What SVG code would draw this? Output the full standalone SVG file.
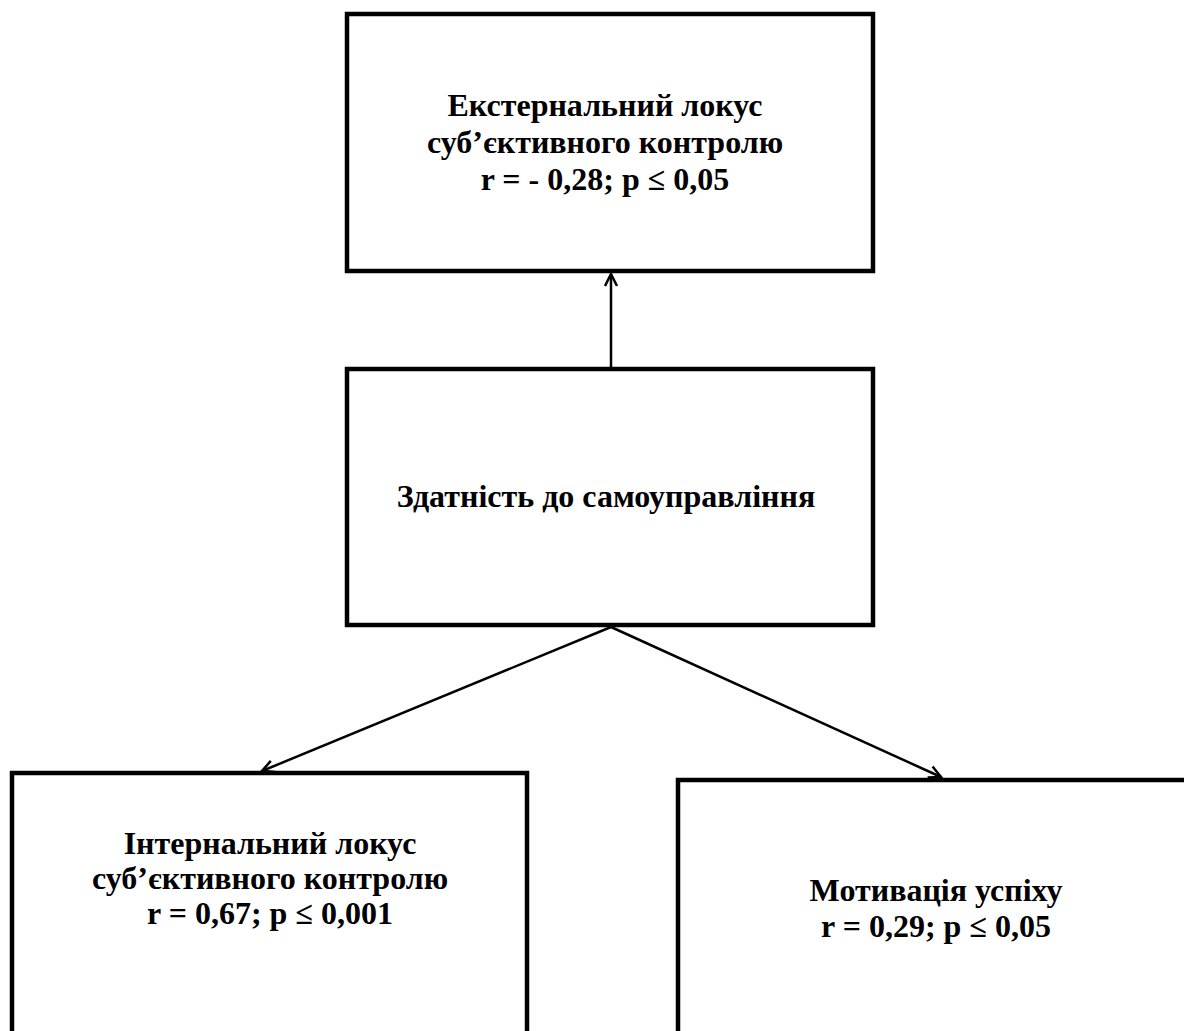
<svg xmlns="http://www.w3.org/2000/svg" width="1184" height="1031" viewBox="0 0 1184 1031">
<style>
.box{fill:#fff;stroke:#000;stroke-width:4.5}
.t{font-family:"Liberation Serif","Times New Roman",serif;font-weight:bold;font-size:32px;fill:#000;text-anchor:middle}
.c{stroke:#000;stroke-width:2.5;fill:none}
</style>
<defs>
<marker id="ah" markerWidth="16" markerHeight="16" refX="14" refY="8" orient="auto" markerUnits="userSpaceOnUse">
<path d="M2,2 L14,8 L2,14" fill="none" stroke="#000" stroke-width="2.5"/>
</marker>
</defs>
<g id="node-external">
<rect class="box" x="347" y="14" width="526" height="257"/>
<text class="t" x="605" y="116">Екстернальний локус</text>
<text class="t" x="605" y="153">суб’єктивного контролю</text>
<text class="t" x="605" y="190">r = - 0,28; p ≤ 0,05</text>
</g>
<g id="node-self">
<rect class="box" x="347" y="369" width="526" height="256"/>
<text class="t" x="606" y="507">Здатність до самоуправління</text>
</g>
<g id="node-internal">
<rect class="box" x="12" y="773" width="515" height="270"/>
<text class="t" x="270" y="854">Інтернальний локус</text>
<text class="t" x="270" y="889">суб’єктивного контролю</text>
<text class="t" x="270" y="924">r = 0,67; p ≤ 0,001</text>
</g>
<g id="node-motivation">
<rect class="box" x="678" y="780" width="520" height="270"/>
<text class="t" x="936" y="901">Мотивація успіху</text>
<text class="t" x="936" y="937">r = 0,29; p ≤ 0,05</text>
</g>
<g id="connectors">
<line class="c" x1="611" y1="367" x2="611" y2="274" marker-end="url(#ah)"/>
<line class="c" x1="611" y1="627" x2="262" y2="771" marker-end="url(#ah)"/>
<line class="c" x1="611" y1="627" x2="941" y2="777" marker-end="url(#ah)"/>
</g>
</svg>
